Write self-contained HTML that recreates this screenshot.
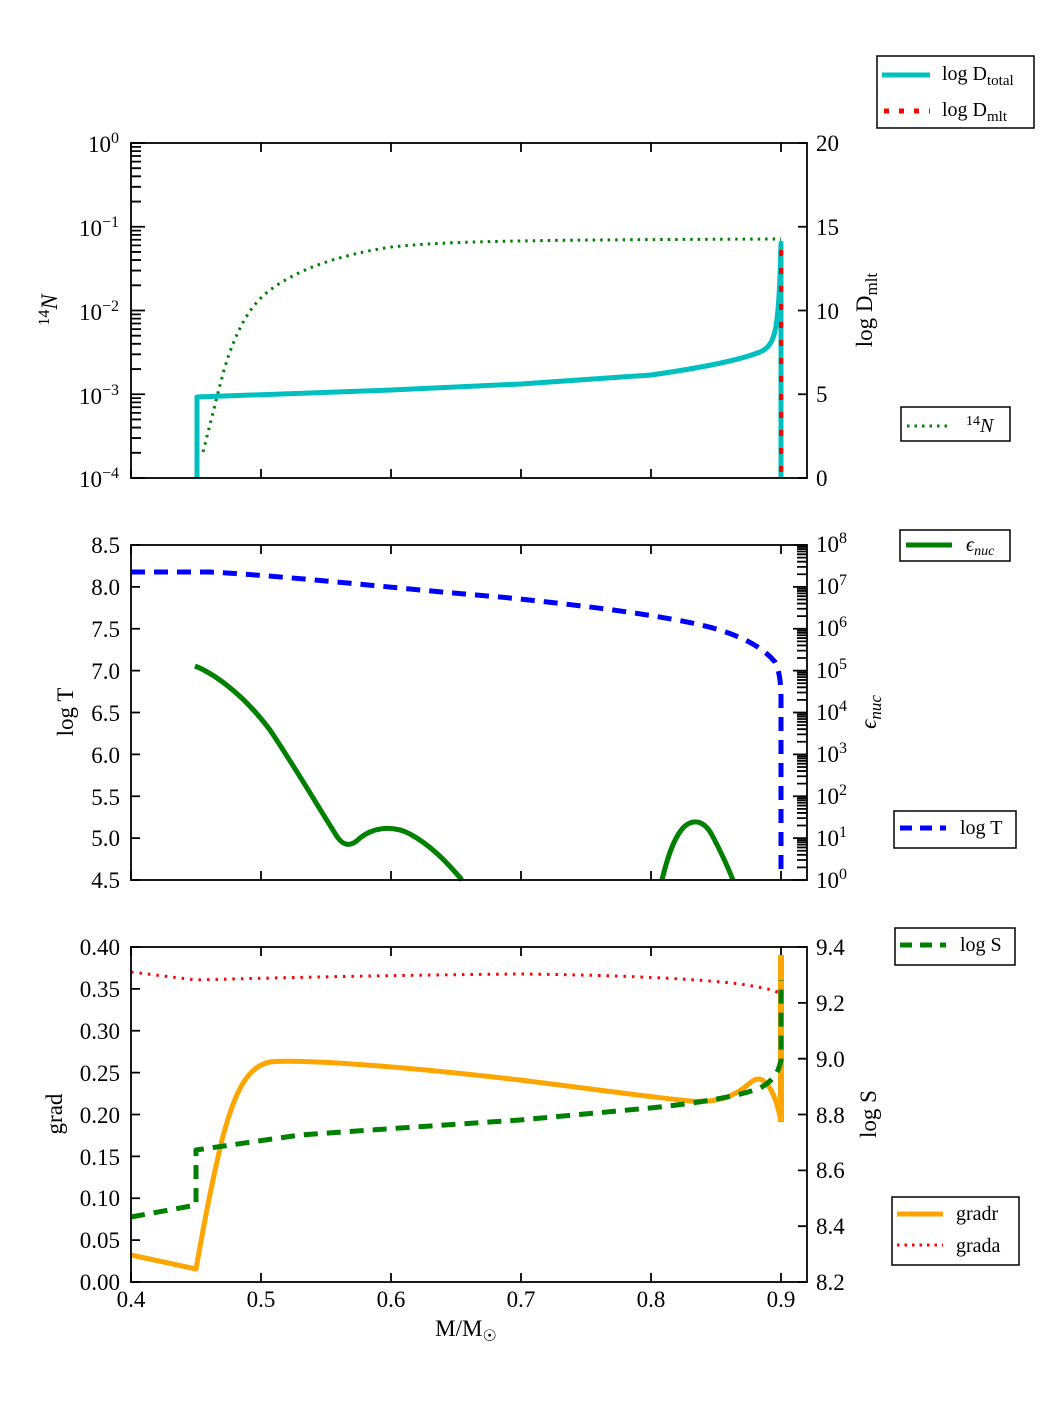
<!DOCTYPE html>
<html><head><meta charset="utf-8"><style>
html,body{margin:0;padding:0;background:#fff;}
svg{display:block;font-family:"Liberation Serif",serif;}
text{font-size:23px;fill:#000;}
</style></head><body>
<svg id="s" width="1050" height="1425" xmlns="http://www.w3.org/2000/svg">
<g id="ticks" stroke="#000" stroke-width="1.8" fill="none"></g>
<g fill="none" stroke-linejoin="round">
<path d="M203,452 C210,425 216,400 224,370 C236,330 250,305 270,290 C300,268 340,255 391,247 C450,241 520,240 781,239" stroke="#008000" stroke-width="3" stroke-dasharray="2.5,5"/>
<path d="M197,478 L197,397 L391,390 L521,384 L651,375 C700,368 740,360 760,352 C775,345 779,335 781,243 L781,478" stroke="#00bfbf" stroke-width="5"/>
<path d="M781,250 L781,478" stroke="#f00" stroke-width="4" stroke-dasharray="6,12"/>
<path d="M131,572 L210,572 C300,577 400,589 500,597 C600,607 680,618 720,630 C750,640 765,650 775,662 C780,672 781,685 781,700 L781,870" stroke="#00f" stroke-width="5" stroke-dasharray="14,9"/>
<path d="M195,666 C210,672 240,690 270,730 C300,775 320,810 338,838 C345,847 352,846 360,838 C375,826 395,826 410,834 C430,845 445,860 462,880" stroke="#008000" stroke-width="5"/>
<path d="M662,880 C668,855 675,835 685,826 C695,818 705,822 712,835 C720,850 727,865 733,880" stroke="#008000" stroke-width="5"/>
<path d="M131,972 L196,980 C260,978 400,975 520,974 C620,975 700,979 740,984 C760,987 775,990 781,994" stroke="#f00" stroke-width="3" stroke-dasharray="2.5,6"/>
<path d="M131,1255 L196,1269 C203,1230 210,1190 222,1140 C235,1090 248,1066 270,1062 C300,1059 400,1066 520,1080 C600,1090 650,1097 690,1101 C720,1103 735,1096 750,1083 C760,1074 767,1082 772,1092 C776,1100 779,1110 781,1122" stroke="#ffa500" stroke-width="5"/>
<path d="M781,955 L781,1122" stroke="#ffa500" stroke-width="6"/>
<path d="M131,1217 L196,1205 L196,1150 L300,1135 L400,1128 L520,1120 L650,1108 C700,1103 740,1096 760,1088 C775,1080 779,1070 781,1060 L781,980" stroke="#008000" stroke-width="5" stroke-dasharray="14,9"/>
</g>
<g fill="none" stroke="#000" stroke-width="1.8">
<rect x="131" y="143" width="676" height="335"/>
<rect x="131" y="545" width="676" height="335"/>
<rect x="131" y="947" width="676" height="335"/>
</g>
<g text-anchor="end">
<text x="119" y="152">10<tspan dy="-9" font-size="16">0</tspan></text>
<text x="119" y="236">10<tspan dy="-9" font-size="16">−1</tspan></text>
<text x="119" y="320">10<tspan dy="-9" font-size="16">−2</tspan></text>
<text x="119" y="404">10<tspan dy="-9" font-size="16">−3</tspan></text>
<text x="119" y="487">10<tspan dy="-9" font-size="16">−4</tspan></text>
<text x="120" y="553">8.5</text><text x="120" y="595">8.0</text><text x="120" y="637">7.5</text><text x="120" y="679">7.0</text><text x="120" y="721">6.5</text><text x="120" y="763">6.0</text><text x="120" y="805">5.5</text><text x="120" y="846">5.0</text><text x="120" y="888">4.5</text>
<text x="120" y="955">0.40</text><text x="120" y="997">0.35</text><text x="120" y="1039">0.30</text><text x="120" y="1081">0.25</text><text x="120" y="1123">0.20</text><text x="120" y="1165">0.15</text><text x="120" y="1206">0.10</text><text x="120" y="1248">0.05</text><text x="120" y="1290">0.00</text>
</g>
<g>
<text x="816" y="151">20</text><text x="816" y="235">15</text><text x="816" y="319">10</text><text x="816" y="402">5</text><text x="816" y="486">0</text>
<text x="816" y="552">10<tspan dy="-9" font-size="16">8</tspan></text>
<text x="816" y="594">10<tspan dy="-9" font-size="16">7</tspan></text>
<text x="816" y="636">10<tspan dy="-9" font-size="16">6</tspan></text>
<text x="816" y="678">10<tspan dy="-9" font-size="16">5</tspan></text>
<text x="816" y="720">10<tspan dy="-9" font-size="16">4</tspan></text>
<text x="816" y="762">10<tspan dy="-9" font-size="16">3</tspan></text>
<text x="816" y="804">10<tspan dy="-9" font-size="16">2</tspan></text>
<text x="816" y="846">10<tspan dy="-9" font-size="16">1</tspan></text>
<text x="816" y="888">10<tspan dy="-9" font-size="16">0</tspan></text>
<text x="816" y="955">9.4</text><text x="816" y="1011">9.2</text><text x="816" y="1067">9.0</text><text x="816" y="1123">8.8</text><text x="816" y="1178">8.6</text><text x="816" y="1234">8.4</text><text x="816" y="1290">8.2</text>
</g>
<g text-anchor="middle">
<text x="131" y="1307">0.4</text><text x="261" y="1307">0.5</text><text x="391" y="1307">0.6</text><text x="521" y="1307">0.7</text><text x="651" y="1307">0.8</text><text x="781" y="1307">0.9</text>
<text x="466" y="1336">M/M<tspan font-size="16" dy="5">☉</tspan></text>
<text transform="translate(57,310) rotate(-90)"><tspan font-size="16" dy="-8">14</tspan><tspan dy="8" font-style="italic">N</tspan></text>
<text transform="translate(73,712) rotate(-90)">log T</text>
<text transform="translate(62,1114) rotate(-90)">grad</text>
<text transform="translate(872,310) rotate(-90)">log D<tspan font-size="17" dy="5">mlt</tspan></text>
<text transform="translate(876,712) rotate(-90)" font-style="italic">ϵ<tspan font-size="17" dy="5">nuc</tspan></text>
<text transform="translate(876,1114) rotate(-90)">log S</text>
</g>
<g fill="#fff" stroke="#000" stroke-width="1.5">
<rect x="877" y="56" width="157" height="72"/>
<rect x="901" y="407" width="109" height="34"/>
<rect x="900" y="530" width="110" height="31"/>
<rect x="894" y="811" width="122" height="37"/>
<rect x="895" y="928" width="120" height="37"/>
<rect x="892" y="1197" width="127" height="68"/>
</g>
<g fill="none">
<path d="M882,75 H930" stroke="#00bfbf" stroke-width="5"/>
<path d="M884,111 H930" stroke="#f00" stroke-width="5" stroke-dasharray="5,10"/>
<path d="M907,426 H951" stroke="#008000" stroke-width="3" stroke-dasharray="2.5,5"/>
<path d="M906,545 H952" stroke="#008000" stroke-width="5"/>
<path d="M900,828 H946" stroke="#00f" stroke-width="5" stroke-dasharray="12,8"/>
<path d="M900,945 H946" stroke="#008000" stroke-width="5" stroke-dasharray="12,8"/>
<path d="M897,1214 H943" stroke="#ffa500" stroke-width="5"/>
<path d="M897,1245 H943" stroke="#f00" stroke-width="3" stroke-dasharray="2.5,5"/>
</g>
<g>
<text x="942" y="80" style="font-size:20px">log D<tspan font-size="15" dy="5">total</tspan></text>
<text x="942" y="116" style="font-size:20px">log D<tspan font-size="15" dy="5">mlt</tspan></text>
<text x="966" y="432" style="font-size:20px"><tspan font-size="14" dy="-7">14</tspan><tspan dy="7" font-style="italic">N</tspan></text>
<text x="966" y="551" style="font-size:20px" font-style="italic">ϵ<tspan font-size="14" dy="4">nuc</tspan></text>
<text x="960" y="834" style="font-size:20px">log T</text>
<text x="960" y="951" style="font-size:20px">log S</text>
<text x="956" y="1220" style="font-size:20px">gradr</text>
<text x="956" y="1252" style="font-size:20px">grada</text>
</g>
</svg>
<script>
var g=document.getElementById('ticks'),d='';
function h(x,y,l){d+='M'+x+','+y+'h'+l;}
function v(x,y,l){d+='M'+x+','+y+'v'+l;}
var L=131,R=807;
[[143,478],[545,880],[947,1282]].forEach(function(p){
 for(var i=0;i<6;i++){var x=131+130*i;v(x,p[0],9);v(x,p[1],-9);}
});
var lg=[.301,.477,.602,.699,.778,.845,.903,.954];
for(var k=0;k<4;k++){var y0=478-83.75*k;h(L,y0,14);lg.forEach(function(f){h(L,y0-83.75*f,10);});}
h(L,143,14);
for(var k=0;k<=4;k++){h(R,478-83.75*k,-9);}
for(var k=0;k<=8;k++){h(L,880-41.875*k,9);}
for(var k=0;k<8;k++){var y0=880-41.875*k;h(R,y0,-14);lg.forEach(function(f){h(R,y0-41.875*f,-10);});}
h(R,545,-14);
for(var k=0;k<=8;k++){h(L,1282-41.875*k,9);}
for(var k=0;k<=6;k++){h(R,1282-55.83*k,-9);}
var p=document.createElementNS('http://www.w3.org/2000/svg','path');p.setAttribute('d',d);g.appendChild(p);
</script>
</body></html>
